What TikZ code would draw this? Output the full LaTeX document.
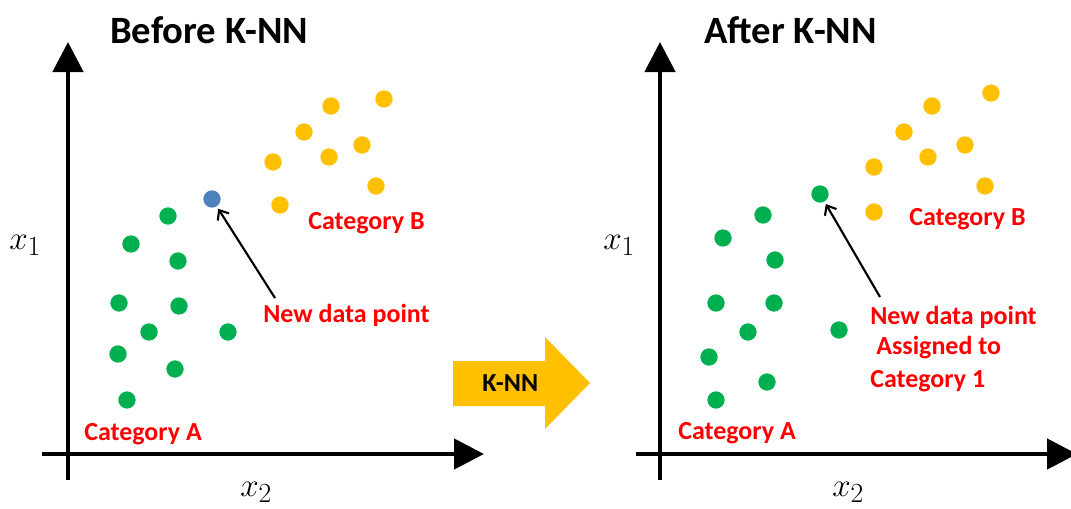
\documentclass[tikz,border=0pt]{standalone}
\usepackage{fontspec}
\setmainfont{Carlito}
\usetikzlibrary{arrows.meta}
\definecolor{catgreen}{HTML}{00B050}
\definecolor{catyellow}{HTML}{FFC000}
\definecolor{newblue}{HTML}{4F81BD}
\definecolor{labelred}{HTML}{FF0000}
\tikzset{
	axis/.style={line width=3.5pt, -{Triangle[length=22.5pt,width=22.5pt]}},
	pointer/.style={line width=1.6pt, -{Straight Barb[length=6pt,width=10pt]}, shorten >=2pt},
	dotg/.style={circle, fill=catgreen, inner sep=0pt, minimum size=13pt},
	doty/.style={circle, fill=catyellow, inner sep=0pt, minimum size=13pt},
	dotb/.style={circle, fill=newblue, inner sep=0pt, minimum size=13pt},
	title/.style={inner sep=0pt, anchor=base west, font=\fontsize{29}{34}\selectfont\bfseries},
	catlabel/.style={inner sep=0pt, anchor=base west, text=labelred, font=\fontsize{19.5}{24}\selectfont\bfseries},
	axlabel/.style={inner sep=0pt, anchor=base west, font=\fontsize{28}{33}\selectfont}
}

\begin{document}
\begin{tikzpicture}[x=0.75pt,y=-0.75pt]
			%%%%% START %%%%%
			\useasboundingbox (0,0) rectangle (1071,508);
			\def\yax{454}
			\def\ytop{42}
			\def\ybot{480}

			%% before
			\coordinate (ybotA) at (68,\ybot);
			\coordinate (ytopA) at (68,\ytop);
			\coordinate (xlftA) at (42,\yax);
			\coordinate (xrgtA) at (484,\yax);
			\draw[axis] (ybotA) -- (ytopA);
			\draw[axis] (xlftA) -- (xrgtA);

			\node[title] (titleA) at (110,43) {Before K-NN};
			\node[axlabel] (xoneA) at (9,249) {$x_1$};
			\node[axlabel] (xtwoA) at (240,496) {$x_2$};

			\node[doty] (ya1) at (384,99) {};
			\node[doty] (ya2) at (331,106) {};
			\node[doty] (ya3) at (304,132) {};
			\node[doty] (ya4) at (362,145) {};
			\node[doty] (ya5) at (329,157) {};
			\node[doty] (ya6) at (273,162) {};
			\node[doty] (ya7) at (376,186) {};
			\node[doty] (ya8) at (280,205) {};

			\node[dotg] (ga1) at (168,216) {};
			\node[dotg] (ga2) at (131,244) {};
			\node[dotg] (ga3) at (178,261) {};
			\node[dotg] (ga4) at (119,303) {};
			\node[dotg] (ga5) at (179,306) {};
			\node[dotg] (ga6) at (149,332) {};
			\node[dotg] (ga7) at (228,332) {};
			\node[dotg] (ga8) at (118,354) {};
			\node[dotg] (ga9) at (175,369) {};
			\node[dotg] (ga10) at (127,400) {};

			\node[dotb] (newA) at (212,199) {};

			\node[catlabel] (catbA) at (308,229) {Category B};
			\node[catlabel] (cataA) at (84,440) {Category A};
			\node[catlabel] (newlblA) at (263,322) {New data point};
			\coordinate (ptrA) at (275,298);
			\draw[pointer] (ptrA) -- (newA);

			%% k-nn arrow
			\fill[catyellow] (453,361) -- (545,361) -- (545,337) -- (590,383) -- (545,429) -- (545,406) -- (453,406) -- cycle;
			\node[inner sep=0pt, anchor=base west, font=\fontsize{19.5}{24}\selectfont\bfseries] (knn) at (482,391) {K-NN};

			%% after
			\coordinate (ybotB) at (660,\ybot);
			\coordinate (ytopB) at (660,\ytop);
			\coordinate (xlftB) at (636,\yax);
			\coordinate (xrgtB) at (1077,\yax);
			\draw[axis] (ybotB) -- (ytopB);
			\draw[axis] (xlftB) -- (xrgtB);

			\node[title] (titleB) at (704,43) {After K-NN};
			\node[axlabel] (xoneB) at (603,249) {$x_1$};
			\node[axlabel] (xtwoB) at (832,496) {$x_2$};

			\node[doty] (yb1) at (991,93) {};
			\node[doty] (yb2) at (932,106) {};
			\node[doty] (yb3) at (904,132) {};
			\node[doty] (yb4) at (965,145) {};
			\node[doty] (yb5) at (928,157) {};
			\node[doty] (yb6) at (874,167) {};
			\node[doty] (yb7) at (985,186) {};
			\node[doty] (yb8) at (874,212) {};

			\node[dotg] (gb1) at (763,215) {};
			\node[dotg] (gb2) at (723,238) {};
			\node[dotg] (gb3) at (775,260) {};
			\node[dotg] (gb4) at (716,303) {};
			\node[dotg] (gb5) at (774,303) {};
			\node[dotg] (gb6) at (748,332) {};
			\node[dotg] (gb7) at (839,330) {};
			\node[dotg] (gb8) at (709,357) {};
			\node[dotg] (gb9) at (767,382) {};
			\node[dotg] (gb10) at (716,400) {};

			\node[dotg] (newB) at (820,194) {};

			\node[catlabel] (catbB) at (909,225) {Category B};
			\node[catlabel] (cataB) at (678,439) {Category A};
			\node[catlabel] (newlblB) at (870,324) {New data point};
			\node[catlabel] (asglblB) at (876,354) {Assigned to};
			\node[catlabel] (catlblB) at (870,387) {Category 1};
			\coordinate (ptrB) at (880,297);
			\draw[pointer] (ptrB) -- (newB);
			%%%%% END %%%%%
\end{tikzpicture}
\end{document}
